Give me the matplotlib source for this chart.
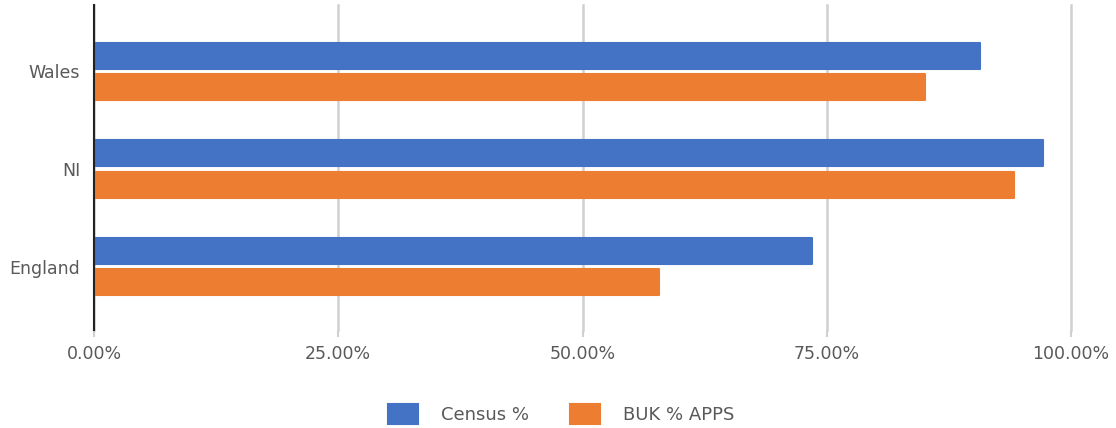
import matplotlib
matplotlib.use("Agg")
import matplotlib.pyplot as plt
from matplotlib.ticker import FuncFormatter

categories = ["England", "NI", "Wales"]
census_pct = [73.5, 97.1, 90.7]
buk_apps_pct = [57.8, 94.2, 85.1]
x_ticks = [0, 25, 50, 75, 100]

blue = "#4472C4"
orange = "#ED7D31"
text_col = "#595959"

plt.rcParams["font.family"] = ["DejaVu Sans"]

fig = plt.figure(figsize=(11.16, 4.28), dpi=100)
ax = fig.add_axes([94/1116, 1-330/428, (1071-94)/1116, 325/428])

ypos = list(range(len(categories)))
h = 0.265
off = 0.16
ax.barh([y + off for y in ypos], census_pct, height=h, color=blue,
        edgecolor=blue, linewidth=1.5, joinstyle="round", label="Census %", zorder=3)
ax.barh([y - off for y in ypos], buk_apps_pct, height=h, color=orange,
        edgecolor=orange, linewidth=1.5, joinstyle="round", label="BUK % APPS", zorder=3)

ax.set_xlim(0, 100)
ax.set_ylim(-0.65, 2.68)
ax.set_yticks(ypos)
ax.set_yticklabels(categories, fontsize=12.5, color=text_col)
ax.set_xticks(x_ticks)
ax.xaxis.set_major_formatter(FuncFormatter(lambda v, p: f"{v:.2f}%"))
ax.tick_params(axis="x", labelsize=12.5, labelcolor=text_col, color="#d0d0d0",
               length=5, width=1.5, pad=6)
ax.tick_params(axis="y", length=0, pad=10)
ax.grid(axis="x", color="#d0d0d0", linewidth=1.8, zorder=0)
for gl in ax.get_xgridlines():
    gl.set_clip_on(False)
ax.set_axisbelow(True)
for s in ["top", "right", "bottom"]:
    ax.spines[s].set_visible(False)
ax.spines["left"].set_color("#222222")
ax.spines["left"].set_linewidth(1.5)
ax.spines["left"].set_zorder(4)

leg = fig.legend(loc="center", bbox_to_anchor=(0.503, 1-414/428), ncol=2, frameon=False,
                 fontsize=13, handlelength=1.66, handleheight=1.4, columnspacing=2.3,
                 handletextpad=1.27, labelcolor=text_col)

fig.savefig("out.png", dpi=100)
